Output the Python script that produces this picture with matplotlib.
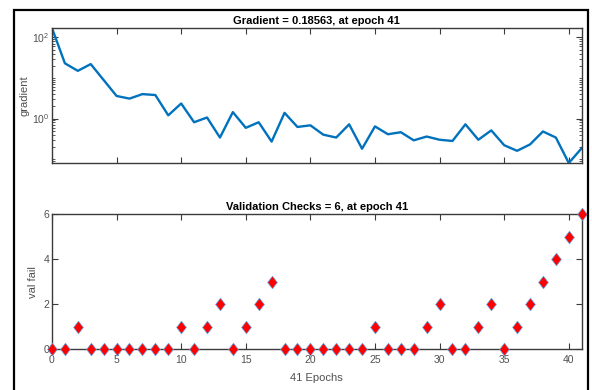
import numpy as np
import matplotlib
matplotlib.use("Agg")
import matplotlib.pyplot as plt
from matplotlib.ticker import FixedLocator, LogLocator, NullFormatter, LogFormatterSciNotation
from matplotlib.patches import Rectangle
from matplotlib.path import Path

plt.rcParams['font.family'] = ['Liberation Sans', 'DejaVu Sans']
plt.rcParams['mathtext.fontset'] = 'custom'
plt.rcParams['mathtext.rm'] = 'Liberation Sans'

epochs = np.arange(0, 42)
gradient = [170, 23, 15, 22, 8.9, 3.6, 3.1, 4.0, 3.8, 1.2,
            2.35, 0.81, 1.06, 0.34, 1.44, 0.59, 0.81, 0.27, 1.38, 0.62,
            0.68, 0.40, 0.34, 0.72, 0.18, 0.64, 0.41, 0.46, 0.29, 0.36,
            0.30, 0.28, 0.72, 0.30, 0.51, 0.22, 0.16, 0.23, 0.48, 0.34,
            0.080, 0.18563]
val_fail = [0, 0, 1, 0, 0, 0, 0, 0, 0, 0,
            1, 0, 1, 2, 0, 1, 2, 3, 0, 0,
            0, 0, 0, 0, 0, 1, 0, 0, 0, 1,
            2, 0, 0, 1, 2, 0, 1, 2, 3, 4,
            5, 6]

blue = (0, 0.447, 0.741)
axcol = '#3a3a3a'
txtcol = '#505050'

# MATLAB-style diamond: a bit taller than wide
diamond = Path([(0, 1), (0.78, 0), (0, -1), (-0.78, 0), (0, 1)],
               [Path.MOVETO, Path.LINETO, Path.LINETO, Path.LINETO, Path.CLOSEPOLY])

fig = plt.figure(figsize=(5.92, 3.90), dpi=100)
fig.patch.set_facecolor('white')

# outer frame
fig.add_artist(Rectangle((14 / 592, -0.05), (588 - 14) / 592, 1.05 - 10 / 390,
                         transform=fig.transFigure, fill=False,
                         edgecolor='black', linewidth=1.6))

ax1 = fig.add_axes([0.0878, 0.582, 0.8948, 0.346])
ax2 = fig.add_axes([0.0878, 0.105, 0.8948, 0.346])


def style(ax):
    for s in ax.spines.values():
        s.set_color(axcol)
        s.set_linewidth(1.0)
    ax.tick_params(which='both', direction='in', top=True, right=True,
                   color=axcol, labelcolor=txtcol, labelsize=7.5)
    ax.tick_params(which='major', length=4)
    ax.tick_params(which='minor', length=2)
    ax.tick_params(axis='y', pad=2)
    ax.tick_params(axis='x', pad=4)


# gradient panel
ax1.semilogy(epochs, gradient, color=blue, linewidth=1.7)
ax1.set_xlim(0, 41)
ax1.set_ylim(min(gradient), max(gradient))
ax1.xaxis.set_major_locator(FixedLocator(range(0, 41, 5)))
ax1.set_xticklabels([])
ax1.yaxis.set_major_locator(FixedLocator([1, 100]))
ax1.yaxis.set_major_formatter(LogFormatterSciNotation())
ax1.yaxis.set_minor_locator(LogLocator(base=10, subs=np.arange(1, 10), numticks=20))
ax1.yaxis.set_minor_formatter(NullFormatter())
ax1.set_ylabel('gradient', color=txtcol, fontsize=8, labelpad=2)
ax1.set_title('Gradient = 0.18563, at epoch 41', fontsize=8, fontweight='bold', pad=3)
style(ax1)

# validation checks panel
ax2.plot(epochs, val_fail, linestyle='none', marker=diamond, markersize=9,
         markerfacecolor='red', markeredgecolor=(0.35, 0.65, 0.9), markeredgewidth=0.5,
         clip_on=False, zorder=3)
ax2.set_xlim(0, 41)
ax2.set_ylim(0, 6)
ax2.set_xticks(range(0, 41, 5))
ax2.set_yticks([0, 2, 4, 6])
ax2.set_xlabel('41 Epochs', color=txtcol, fontsize=8, labelpad=6)
ax2.set_ylabel('val fail', color=txtcol, fontsize=8, labelpad=4)
ax2.set_title('Validation Checks = 6, at epoch 41', fontsize=8, fontweight='bold', pad=3)
style(ax2)

fig.savefig('out.png', dpi=100)
